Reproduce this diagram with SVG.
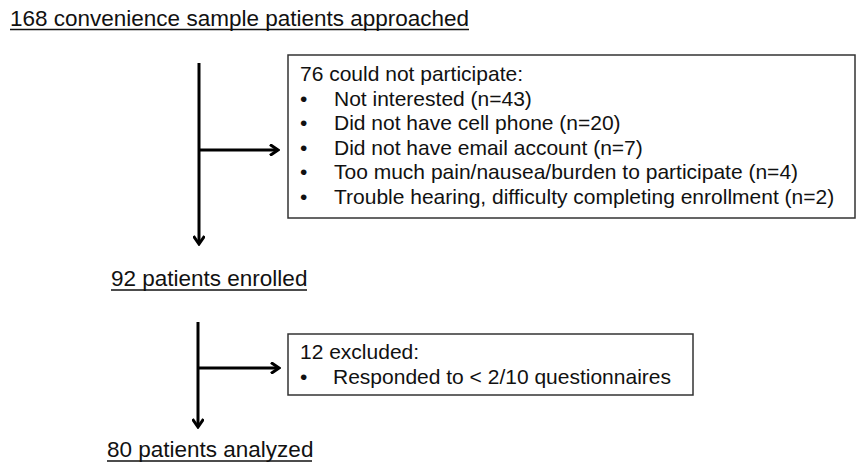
<svg xmlns="http://www.w3.org/2000/svg" width="856" height="465" viewBox="0 0 856 465">
<style>
text{font-family:"Liberation Sans",Arial,sans-serif;fill:#111;}
.h{font-size:22.5px;}
.b{font-size:21px;}
.ul{stroke:#111;stroke-width:1.5;}
.box{fill:#fff;stroke:#333;stroke-width:1.5;}
.conn{stroke:#000;stroke-width:3;fill:none;}
</style>
<defs>
<marker id="arr" markerWidth="12" markerHeight="12" viewBox="0 0 12 12" refX="10" refY="6" orient="auto" markerUnits="userSpaceOnUse">
<path d="M2,0.5 L10,6 L2,11.5" fill="none" stroke="#000" stroke-width="3"/>
</marker>
</defs>
<g id="n-approached">
<text class="h" x="10" y="26">168 convenience sample patients approached</text>
<line class="ul" x1="10" y1="29.5" x2="469" y2="29.5"/>
</g>
<g id="n-notparticipate">
<rect class="box" x="288" y="55" width="567" height="163"/>
<text class="b" x="300" y="81">76 could not participate:</text>
<text class="b" x="300" y="105.5">•</text><text class="b" x="334" y="105.5">Not interested (n=43)</text>
<text class="b" x="300" y="130">•</text><text class="b" x="334" y="130">Did not have cell phone (n=20)</text>
<text class="b" x="300" y="154.5">•</text><text class="b" x="334" y="154.5">Did not have email account (n=7)</text>
<text class="b" x="300" y="179">•</text><text class="b" x="334" y="179">Too much pain/nausea/burden to participate (n=4)</text>
<text class="b" x="300" y="203.5">•</text><text class="b" x="334" y="203.5">Trouble hearing, difficulty completing enrollment (n=2)</text>
</g>
<g id="n-enrolled">
<text class="h" x="111" y="286">92 patients enrolled</text>
<line class="ul" x1="111" y1="290" x2="307" y2="290"/>
</g>
<g id="n-excluded">
<rect class="box" x="288" y="334" width="405" height="61"/>
<text class="b" x="300" y="359">12 excluded:</text>
<text class="b" x="300" y="384">•</text><text class="b" x="333" y="384">Responded to &lt; 2/10 questionnaires</text>
</g>
<g id="n-analyzed">
<text class="h" x="107" y="457">80 patients analyzed</text>
<line class="ul" x1="107" y1="461" x2="312" y2="461"/>
</g>
<g id="connectors">
<line class="conn" x1="199" y1="63" x2="199" y2="244" marker-end="url(#arr)"/>
<line class="conn" x1="199" y1="150" x2="278" y2="150" marker-end="url(#arr)"/>
<line class="conn" x1="198" y1="322" x2="198" y2="427" marker-end="url(#arr)"/>
<line class="conn" x1="198" y1="368" x2="279" y2="368" marker-end="url(#arr)"/>
</g>
</svg>
